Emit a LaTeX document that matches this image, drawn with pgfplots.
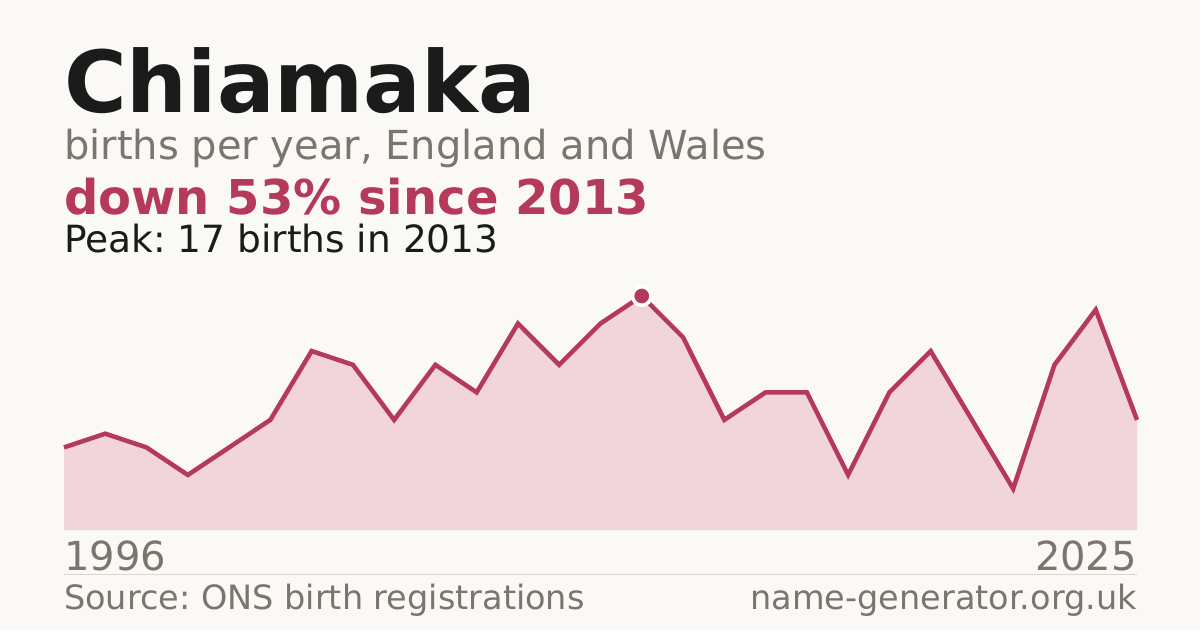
\documentclass[border=0pt]{standalone}
\usepackage{pgfplots}
\pgfplotsset{compat=1.18}
\usepackage{pgfplotstable}
\usepackage{fontspec}
\setmainfont{DejaVu Sans}
\frenchspacing
\definecolor{bg}{HTML}{FAF9F5}
\definecolor{crimson}{HTML}{B5395A}
\definecolor{pinkfill}{HTML}{F1D5DB}
\definecolor{titlec}{HTML}{1B1B1B}
\definecolor{greyc}{HTML}{7A756D}
\definecolor{sepc}{HTML}{DAD7D0}
\pgfplotstableread{
idx births
0 6
1 7
2 6
3 4
4 6
5 8
6 13
7 12
8 8
9 12
10 10
11 15
12 12
13 15
14 17
15 14
16 8
17 10
18 10
19 4
20 10
21 13
22 8
23 3
24 12
25 16
26 8
}\births
\begin{document}
\begin{tikzpicture}[x=1pt,y=1pt]
\fill[bg] (0,0) rectangle (1200,630);
\begin{axis}[
  at={(64pt,100pt)}, anchor=south west,
  scale only axis, width=1073pt, height=234pt,
  xmin=0, xmax=26, ymin=0, ymax=17,
  axis lines=none, clip=false,
]
\addplot[fill=pinkfill, draw=none] table[x=idx,y=births]{\births} \closedcycle;
\addplot[crimson, line width=4.5pt, line join=miter] table[x=idx,y=births]{\births};
\addplot[only marks, mark=*, mark size=9.25pt, mark options={fill=crimson, draw=white, line width=3.5pt}] coordinates {(14,17)};
\end{axis}
\node[anchor=base west, inner sep=0, text=titlec, font=\fontsize{85.5}{85.5}\selectfont\bfseries] at (64,517) {Chiamaka};
\node[anchor=base west, inner sep=0, text=greyc, font=\fontsize{40}{40}\selectfont] at (64,470) {births per year, England and Wales};
\node[anchor=base west, inner sep=0, text=crimson, font=\fontsize{48}{48}\selectfont\bfseries] at (64,415) {down 53\% since 2013};
\node[anchor=base west, inner sep=0, text=titlec, font=\fontsize{37.5}{37.5}\selectfont] at (64,377) {Peak: 17 births in 2013};
\node[anchor=base west, inner sep=0, text=greyc, font=\fontsize{40}{40}\selectfont] at (64,60) {1996};
\node[anchor=base east, inner sep=0, text=greyc, font=\fontsize{40}{40}\selectfont] at (1137,60) {2025};
\draw[sepc, line width=1pt] (64,56) -- (1137,56);
\node[anchor=base west, inner sep=0, text=greyc, font=\fontsize{33.5}{33.5}\selectfont] at (64,20.5) {Source: ONS birth registrations};
\node[anchor=base east, inner sep=0, text=greyc, font=\fontsize{33.5}{33.5}\selectfont] at (1137,20.5) {name-generator.org.uk};
\pgfresetboundingbox
\path (0,0) rectangle (1200,630);
\end{tikzpicture}
\end{document}
